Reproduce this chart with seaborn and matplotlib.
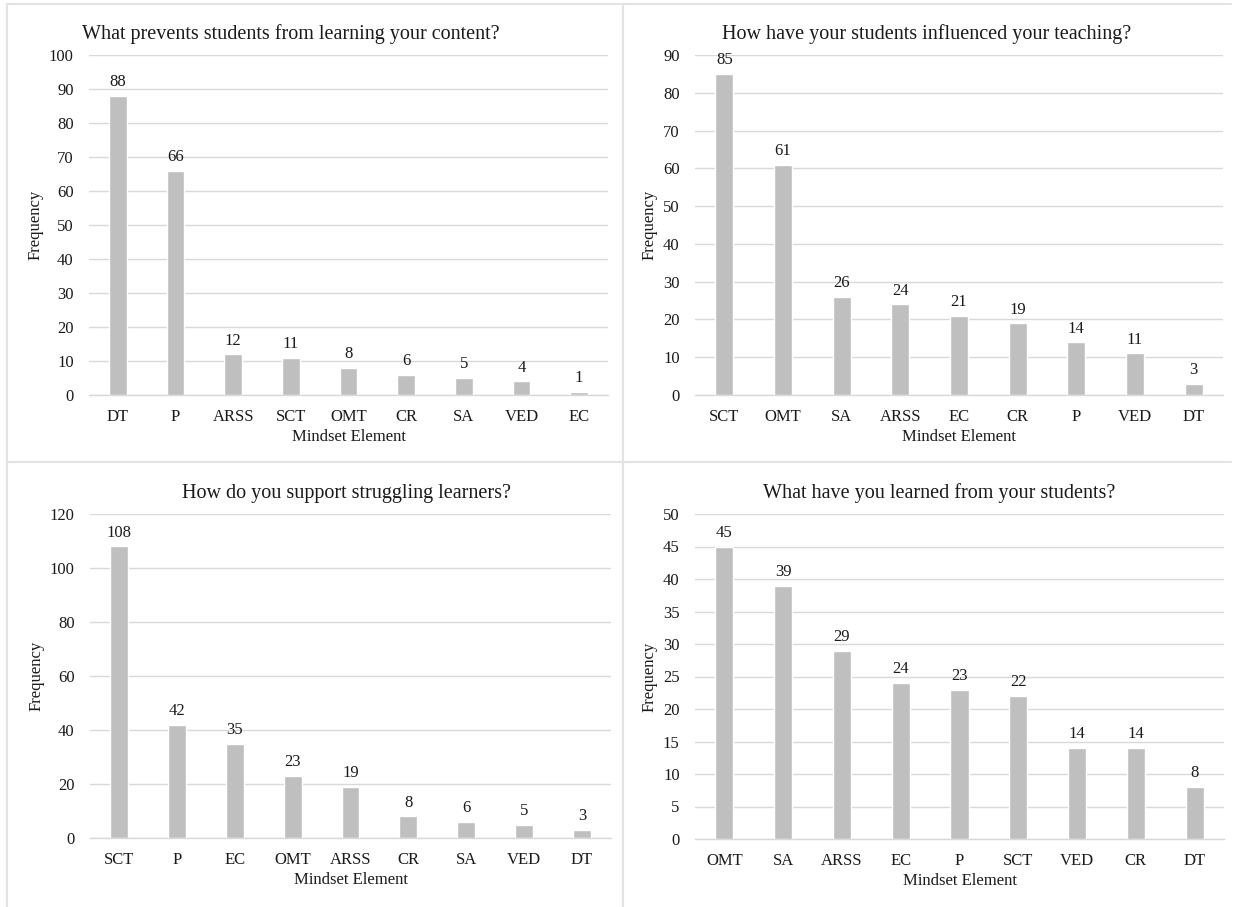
import matplotlib
matplotlib.use("Agg")
import matplotlib.pyplot as plt
import seaborn as sns
import pandas as pd
from matplotlib.lines import Line2D

# Dados de cada painel
cat_prevents = ["DT", "P", "ARSS", "SCT", "OMT", "CR", "SA", "VED", "EC"]
val_prevents = [88, 66, 12, 11, 8, 6, 5, 4, 1]

cat_influenced = ["SCT", "OMT", "SA", "ARSS", "EC", "CR", "P", "VED", "DT"]
val_influenced = [85, 61, 26, 24, 21, 19, 14, 11, 3]

cat_support = ["SCT", "P", "EC", "OMT", "ARSS", "CR", "SA", "VED", "DT"]
val_support = [108, 42, 35, 23, 19, 8, 6, 5, 3]

cat_learned = ["OMT", "SA", "ARSS", "EC", "P", "SCT", "VED", "CR", "DT"]
val_learned = [45, 39, 29, 24, 23, 22, 14, 14, 8]

titles = [
    "What prevents students from learning your content?",
    "How have your students influenced your teaching?",
    "How do you support struggling learners?",
    "What have you learned from your students?",
]

sns.set_theme(style="white")
plt.rcParams["font.family"] = ["Liberation Serif", "DejaVu Serif"]

BAR = "#BFBFBF"
GRID = "#D9D9D9"
TXT = "#1a1a1a"

W, H = 1234, 907
fig = plt.figure(figsize=(W / 100, H / 100), dpi=100)

# posicoes em pixels: (esq, dir, topo, base), limite y, passo, centro do titulo
paineis = [
    (cat_prevents, val_prevents, (89, 608, 55, 395), 100, 10, 291),
    (cat_influenced, val_influenced, (695, 1223, 55, 395), 90, 10, 927),
    (cat_support, val_support, (90, 611, 514, 838), 120, 20, 346),
    (cat_learned, val_learned, (695, 1224, 514, 839), 50, 5, 939),
]

for i, (cats, vals, (x0, x1, y0, y1), ymax, step, tx) in enumerate(paineis):
    ax = fig.add_axes([x0 / W, 1 - y1 / H, (x1 - x0) / W, (y1 - y0) / H])
    df = pd.DataFrame({"Elemento": cats, "Frequencia": vals})
    sns.barplot(data=df, x="Elemento", y="Frequencia", color=BAR, width=0.31,
                saturation=1, ax=ax, zorder=3)
    for c in ax.containers:
        ax.bar_label(c, padding=4, fontsize=12, color=TXT)
    ax.set_ylim(0, ymax)
    ax.set_yticks(range(0, ymax + 1, step))
    ax.yaxis.grid(True, color=GRID, linewidth=1.0, zorder=0)
    ax.set_axisbelow(True)
    for s in ["left", "right", "top"]:
        ax.spines[s].set_visible(False)
    ax.spines["bottom"].set_color(GRID)
    ax.spines["bottom"].set_linewidth(1.0)
    ax.tick_params(axis="both", length=0, labelsize=12, colors=TXT)
    ax.tick_params(axis="y", pad=11)
    ax.tick_params(axis="x", pad=10)
    ax.set_xlabel("Mindset Element", fontsize=12, color=TXT, labelpad=3)
    ax.set_ylabel("Frequency", fontsize=12, color=TXT, labelpad=4)
    ty = 1 - (y0 - 16) / H
    fig.text(tx / W, ty, titles[i], ha="center", va="baseline", fontsize=14.5, color=TXT)

# bordas dos paineis
bordas = [
    ((7, 1231), (4, 4)),
    ((7, 1231), (462, 462)),
    ((7, 7), (4, 907)),
    ((623, 623), (4, 907)),
]
for xs, ys in bordas:
    fig.add_artist(Line2D([x / W for x in xs], [1 - y / H for y in ys],
                          color="#E3E3E3", linewidth=1.5))

fig.savefig("out.png", dpi=100, facecolor="white")
